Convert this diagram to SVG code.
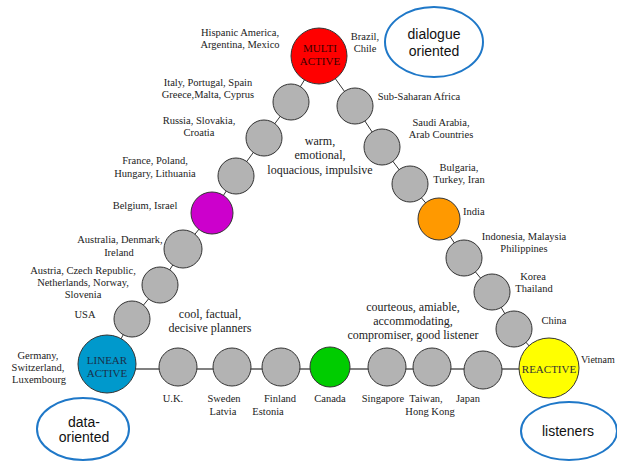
<svg xmlns="http://www.w3.org/2000/svg" width="617" height="461" viewBox="0 0 617 461">
<style>
.c{fill:#b3b3b3;stroke:#333;stroke-width:1}
.k{stroke:#333;stroke-width:1}
.lbl{font-family:"Liberation Serif","Times New Roman",serif;font-size:10.5px;fill:#222;text-anchor:middle}
.lblL{font-family:"Liberation Serif","Times New Roman",serif;font-size:10.5px;fill:#222;text-anchor:start}
.desc{font-family:"Liberation Serif","Times New Roman",serif;font-size:12px;fill:#222;text-anchor:middle}
.in{font-family:"Liberation Serif","Times New Roman",serif;font-size:11px;text-anchor:middle}
.ell{fill:#fff;stroke:#1f78c8;stroke-width:2}
.et{font-family:"Liberation Sans",Arial,sans-serif;font-size:14px;fill:#111;text-anchor:middle}
</style>
<rect width="617" height="461" fill="#fff"/>
<g id="connectors">
<polyline class="k" fill="none" points="319,56 291,102 264,138 236,176 212,213 183,249 160,285 132,319 107,364"/>
<polyline class="k" fill="none" points="319,56 355,106 382,147 410,184 439,219 464,258 492,292 514,329 549,368"/>
<line x1="107" y1="369" x2="549" y2="369" stroke="#808080" stroke-width="2"/>
</g>
<g id="ellipse-dialogue"><ellipse class="ell" cx="434" cy="42" rx="49" ry="35"/><text class="et" x="434" y="39">dialogue</text><text class="et" x="434" y="56">oriented</text></g>
<g id="ellipse-data"><ellipse class="ell" cx="83" cy="429" rx="46" ry="31"/><text class="et" x="84" y="427">data-</text><text class="et" x="84" y="442">oriented</text></g>
<g id="ellipse-listeners"><ellipse class="ell" cx="569" cy="431" rx="48" ry="29"/><text class="et" x="568" y="436">listeners</text></g>
<g id="multi-active"><circle cx="319" cy="56" r="28" fill="#ff0000" stroke="#333"/><text class="in" x="320" y="52" fill="#3a0000">MULTI</text><text class="in" x="320" y="65" fill="#3a0000">ACTIVE</text></g>
<g id="linear-active"><circle cx="107" cy="364" r="29" fill="#0099cc" stroke="#333"/><text class="in" x="107" y="364" fill="#1a2f4a">LINEAR</text><text class="in" x="107" y="377" fill="#1a2f4a">ACTIVE</text></g>
<g id="reactive"><circle cx="549" cy="368" r="30" fill="#ffff00" stroke="#333"/><text class="in" x="549" y="373" fill="#333">REACTIVE</text></g>
<g id="n-italy"><circle class="c" cx="291" cy="102" r="18"/></g>
<g id="n-russia"><circle class="c" cx="264" cy="138" r="18"/></g>
<g id="n-france"><circle class="c" cx="236" cy="176" r="18"/></g>
<g id="n-belgium"><circle cx="212" cy="213" r="21" fill="#cc00cc" stroke="#333"/></g>
<g id="n-australia"><circle class="c" cx="183" cy="249" r="19"/></g>
<g id="n-austria"><circle class="c" cx="160" cy="285" r="18"/></g>
<g id="n-usa"><circle class="c" cx="132" cy="319" r="18"/></g>
<g id="n-subsahara"><circle class="c" cx="355" cy="106" r="18"/></g>
<g id="n-saudi"><circle class="c" cx="382" cy="147" r="18"/></g>
<g id="n-bulgaria"><circle class="c" cx="410" cy="184" r="18"/></g>
<g id="n-india"><circle cx="439" cy="219" r="21" fill="#ff9900" stroke="#333"/></g>
<g id="n-indonesia"><circle class="c" cx="464" cy="258" r="18"/></g>
<g id="n-korea"><circle class="c" cx="492" cy="292" r="18"/></g>
<g id="n-china"><circle class="c" cx="514" cy="329" r="18"/></g>
<g id="n-uk"><circle class="c" cx="178" cy="367" r="19"/></g>
<g id="n-sweden"><circle class="c" cx="232" cy="367" r="19"/></g>
<g id="n-finland"><circle class="c" cx="281" cy="367" r="19"/></g>
<g id="n-canada"><circle cx="330" cy="367" r="20" fill="#00cc00" stroke="#333"/></g>
<g id="n-singapore"><circle class="c" cx="387" cy="367" r="19"/></g>
<g id="n-taiwan"><circle class="c" cx="432" cy="367" r="19"/></g>
<g id="n-japan"><circle class="c" cx="483" cy="370" r="19"/></g>
<g id="labels">
<text class="lbl" x="240" y="36">Hispanic America,</text>
<text class="lbl" x="240" y="48">Argentina, Mexico</text>
<text class="lbl" x="365" y="40">Brazil,</text>
<text class="lbl" x="365" y="52">Chile</text>
<text class="lbl" x="208" y="86">Italy, Portugal, Spain</text>
<text class="lbl" x="208" y="98">Greece,Malta, Cyprus</text>
<text class="lbl" x="199" y="124">Russia, Slovakia,</text>
<text class="lbl" x="199" y="136">Croatia</text>
<text class="lbl" x="155" y="164">France, Poland,</text>
<text class="lbl" x="155" y="177">Hungary, Lithuania</text>
<text class="lbl" x="145" y="209">Belgium, Israel</text>
<text class="lbl" x="120" y="243">Australia, Denmark,</text>
<text class="lbl" x="119" y="256">Ireland</text>
<text class="lbl" x="83" y="274">Austria, Czech Republic,</text>
<text class="lbl" x="83" y="286">Netherlands, Norway,</text>
<text class="lbl" x="83" y="298">Slovenia</text>
<text class="lbl" x="85" y="318">USA</text>
<text class="lbl" x="38" y="359">Germany,</text>
<text class="lbl" x="38" y="371">Switzerland,</text>
<text class="lbl" x="39" y="383">Luxembourg</text>
<text class="lbl" x="173" y="402">U.K.</text>
<text class="lbl" x="224" y="402">Sweden</text>
<text class="lbl" x="223" y="415">Latvia</text>
<text class="lbl" x="280" y="402">Finland</text>
<text class="lbl" x="268" y="415">Estonia</text>
<text class="lbl" x="330" y="402">Canada</text>
<text class="lbl" x="383" y="402">Singapore</text>
<text class="lbl" x="426" y="402">Taiwan,</text>
<text class="lbl" x="430" y="415">Hong Kong</text>
<text class="lbl" x="468" y="402">Japan</text>
<text class="lbl" x="419" y="100">Sub-Saharan Africa</text>
<text class="lbl" x="441" y="126">Saudi Arabia,</text>
<text class="lbl" x="441" y="138">Arab Countries</text>
<text class="lbl" x="459" y="171">Bulgaria,</text>
<text class="lbl" x="459" y="183">Turkey, Iran</text>
<text class="lblL" x="463" y="215">India</text>
<text class="lbl" x="524" y="240">Indonesia, Malaysia</text>
<text class="lbl" x="524" y="252">Philippines</text>
<text class="lbl" x="533" y="280">Korea</text>
<text class="lbl" x="534" y="292">Thailand</text>
<text class="lbl" x="554" y="324">China</text>
<text class="lblL" x="581" y="363" style="font-size:10px">Vietnam</text>
<text class="desc" x="320" y="145">warm,</text>
<text class="desc" x="320" y="159">emotional,</text>
<text class="desc" x="320" y="174">loquacious,  impulsive</text>
<text class="desc" x="210" y="318">cool,  factual,</text>
<text class="desc" x="210" y="332">decisive  planners</text>
<text class="desc" x="413" y="311">courteous,  amiable,</text>
<text class="desc" x="413" y="325">accommodating,</text>
<text class="desc" x="413" y="339">compromiser,  good  listener</text>
</g>
</svg>
